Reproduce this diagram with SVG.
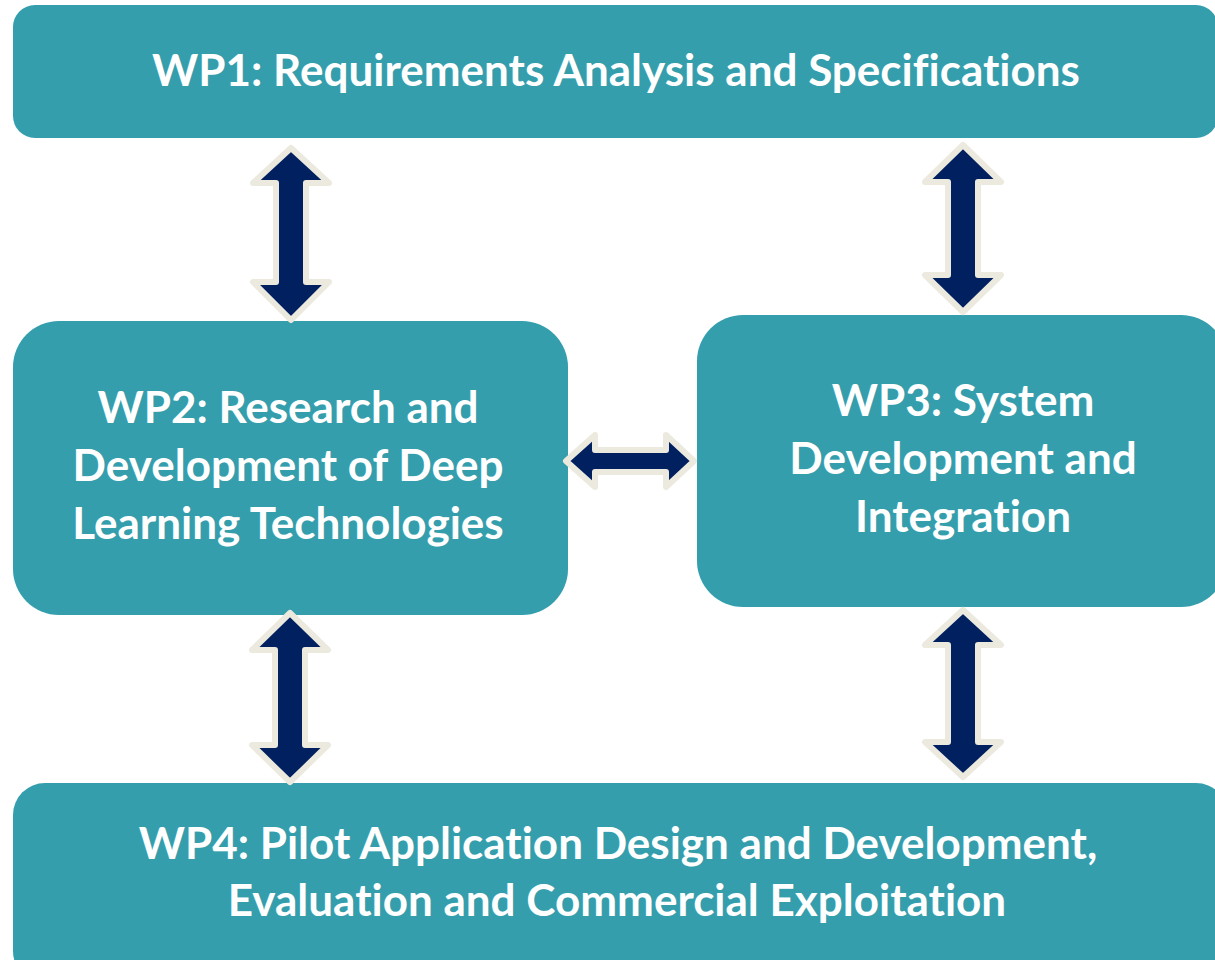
<svg xmlns="http://www.w3.org/2000/svg" width="1215" height="960" viewBox="0 0 1215 960">
<style>
.box{fill:#359EAD;}
.t{font-family:"Lato","Open Sans","Liberation Sans",sans-serif;font-weight:bold;fill:#FFFFFF;text-anchor:middle;font-size:44px;font-variant-ligatures:none;font-feature-settings:"liga" 0;}
.arr{fill:#00205F;stroke:#ECE9DF;stroke-width:6;stroke-linejoin:round;}
</style>
<rect width="1215" height="960" fill="#FFFFFF"/>
<g id="wp1">
<rect class="box" x="13" y="5" width="1205" height="133" rx="22"/>
<text class="t" x="616" y="86">WP1: Requirements Analysis and Specifications</text>
</g>
<g id="wp2">
<rect class="box" x="13" y="321" width="555" height="294" rx="46"/>
<text class="t" x="288" y="423">WP2: Research and</text>
<text class="t" x="288" y="481">Development of Deep</text>
<text class="t" x="288" y="539">Learning Technologies</text>
</g>
<g id="wp3">
<rect class="box" x="697" y="315" width="530" height="292" rx="46"/>
<text class="t" x="963" y="416">WP3: System</text>
<text class="t" x="963" y="474">Development and</text>
<text class="t" x="963" y="532">Integration</text>
</g>
<g id="wp4">
<rect class="box" x="13" y="783" width="1215" height="200" rx="32"/>
<text class="t" x="618" y="859">WP4: Pilot Application Design and Development,</text>
<text class="t" x="617" y="916">Evaluation and Commercial Exploitation</text>
</g>
<g id="connectors">
<path class="arr" d="M291,148 L329,183 L306,183 L306,282 L329,282 L291,320 L253,282 L276,282 L276,183 L253,183 Z"/>
<path class="arr" d="M963,145 L1001,182 L978,182 L978,275 L1001,275 L963,312 L925,275 L948,275 L948,182 L925,182 Z"/>
<path class="arr" d="M290,613 L328,650 L305,650 L305,745 L328,745 L290,782 L252,745 L275,745 L275,650 L252,650 Z"/>
<path class="arr" d="M963,610 L1001,645 L978,645 L978,742 L1001,742 L963,777 L925,742 L948,742 L948,645 L925,645 Z"/>
<path class="arr" d="M566,461 L595,435 L595,450 L666,450 L666,435 L694,461 L666,487 L666,472 L595,472 L595,487 Z"/>
</g>
</svg>
